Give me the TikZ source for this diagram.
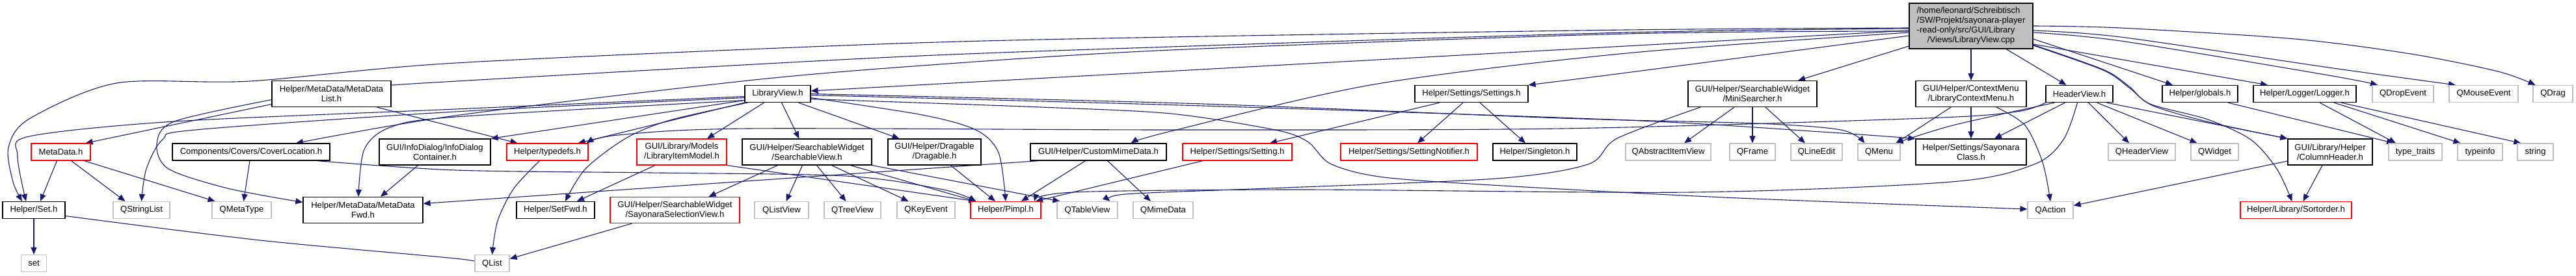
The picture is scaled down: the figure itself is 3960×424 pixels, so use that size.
\documentclass[tikz,border=0pt]{standalone}
\usepackage{fontspec}
\setmainfont{Liberation Sans}
\usetikzlibrary{arrows.meta}
\definecolor{edgeblue}{HTML}{191970}
\definecolor{extgray}{HTML}{BFBFBF}
\definecolor{mainfill}{HTML}{BFBFBF}
\newcommand\nodefont{\fontsize{13.1pt}{15pt}\selectfont}
\pgfdeclarelayer{edgelayer}
\pgfsetlayers{edgelayer,main}
\tikzset{
  box/.style={draw, line width=1.2pt, fill=white, inner sep=0pt, align=center, font=\nodefont, minimum height=26pt},
  dbl/.style={minimum height=40pt},
  docn/.style={box, draw=black},
  extn/.style={box, draw=extgray},
  redn/.style={box, draw=red},
  e/.style={draw=edgeblue, line width=1.1pt, -{Triangle[length=11pt,width=9pt]}},
}
\begin{document}
\begin{tikzpicture}[x=1pt,y=-1pt]
\useasboundingbox (0,0) rectangle (3960,424);
% row 0
\node[docn, fill=mainfill, minimum width=190pt, minimum height=70pt] (cpp) at (3030,40) {\begin{tabular}{@{}l@{}}/home/leonard/Schreibtisch\\/SW/Projekt/sayonara-player\\-read-only/src/GUI/Library\\\multicolumn{1}{@{}c@{}}{/Views/LibraryView.cpp}\end{tabular}};
% row 1
\node[docn,dbl,minimum width=183pt] (mdlist) at (509.5,144.5) {Helper/MetaData/MetaData\\List.h};
\node[docn,minimum width=101pt] (libview) at (1195.5,144.5) {LibraryView.h};
\node[docn,minimum width=174pt] (settings) at (2262,144.5) {Helper/Settings/Settings.h};
\node[docn,dbl,minimum width=198pt] (minisearcher) at (2694,144.5) {GUI/Helper/SearchableWidget\\/MiniSearcher.h};
\node[docn,dbl,minimum width=170pt] (ctxmenu) at (3030,144.5) {GUI/Helper/ContextMenu\\/LibraryContextMenu.h};
\node[docn,minimum width=103pt] (headerview) at (3196.5,144.5) {HeaderView.h};
\node[docn,minimum width=116pt] (globals) at (3382,144.5) {Helper/globals.h};
\node[docn,minimum width=158pt] (logger) at (3543,144.5) {Helper/Logger/Logger.h};
\node[extn,minimum width=94pt] (qdropevent) at (3694,144.5) {QDropEvent};
\node[extn,minimum width=106pt] (qmouseevent) at (3818,144.5) {QMouseEvent};
\node[extn,minimum width=61pt] (qdrag) at (3924.5,144.5) {QDrag};
% row 2
\node[redn,minimum width=91pt] (metadata) at (93.5,234) {MetaData.h};
\node[docn,minimum width=242pt] (coverloc) at (386,234) {Components/Covers/CoverLocation.h};
\node[docn,dbl,minimum width=171pt] (infodlg) at (668.5,234) {GUI/InfoDialog/InfoDialog\\Container.h};
\node[redn,minimum width=125pt] (typedefs) at (841.5,234) {Helper/typedefs.h};
\node[redn,dbl,minimum width=138pt] (libitemmodel) at (1048,234) {GUI/Library/Models\\/LibraryItemModel.h};
\node[docn,dbl,minimum width=199pt] (searchview) at (1240.5,234) {GUI/Helper/SearchableWidget\\/SearchableView.h};
\node[docn,dbl,minimum width=143pt] (dragable) at (1436.5,234) {GUI/Helper/Dragable\\/Dragable.h};
\node[docn,minimum width=209pt] (custommime) at (1688.5,234) {GUI/Helper/CustomMimeData.h};
\node[redn,minimum width=168pt] (setting) at (1902,234) {Helper/Settings/Setting.h};
\node[redn,minimum width=210pt] (settingnotifier) at (2166,234) {Helper/Settings/SettingNotifier.h};
\node[docn,minimum width=129pt] (singleton) at (2359.5,234) {Helper/Singleton.h};
\node[extn,minimum width=131pt] (qaiv) at (2564.5,234) {QAbstractItemView};
\node[extn,minimum width=70pt] (qframe) at (2694,234) {QFrame};
\node[extn,minimum width=79pt] (qlineedit) at (2792.5,234) {QLineEdit};
\node[extn,minimum width=65pt] (qmenu) at (2888.5,234) {QMenu};
\node[docn,dbl,minimum width=170pt] (sayclass) at (3030,234) {Helper/Settings/Sayonara\\Class.h};
\node[extn,minimum width=103pt] (qheaderview) at (3292.5,234) {QHeaderView};
\node[extn,minimum width=73pt] (qwidget) at (3404.5,234) {QWidget};
\node[docn,dbl,minimum width=130pt] (colheader) at (3582,234) {GUI/Library/Helper\\/ColumnHeader.h};
\node[extn,minimum width=82pt] (typetraits) at (3713,234) {type\_traits};
\node[extn,minimum width=69pt] (typeinfo) at (3812.5,234) {typeinfo};
\node[extn,minimum width=55pt] (string) at (3897.5,234) {string};
% row 3
\node[docn,minimum width=96pt] (seth) at (52,323.5) {Helper/Set.h};
\node[extn,minimum width=87pt] (qstringlist) at (217.5,323.5) {QStringList};
\node[extn,minimum width=91pt] (qmetatype) at (371.5,323.5) {QMetaType};
\node[docn,dbl,minimum width=184pt] (mdfwd) at (558,323.5) {Helper/MetaData/MetaData\\Fwd.h};
\node[docn,minimum width=120pt] (setfwd) at (854,323.5) {Helper/SetFwd.h};
\node[redn,dbl,minimum width=199pt] (selview) at (1037.5,323.5) {GUI/Helper/SearchableWidget\\/SayonaraSelectionView.h};
\node[extn,minimum width=83pt] (qlistview) at (1201.5,323.5) {QListView};
\node[extn,minimum width=87pt] (qtreeview) at (1310.5,323.5) {QTreeView};
\node[extn,minimum width=89pt] (qkeyevent) at (1423.5,323.5) {QKeyEvent};
\node[redn,minimum width=108pt] (pimpl) at (1546,323.5) {Helper/Pimpl.h};
\node[extn,minimum width=93pt] (qtableview) at (1671.5,323.5) {QTableView};
\node[extn,minimum width=92pt] (qmimedata) at (1788,323.5) {QMimeData};
\node[extn,minimum width=70pt] (qaction) at (3152,323.5) {QAction};
\node[redn,minimum width=171pt] (sortorder) at (3529.5,323.5) {Helper/Library/Sortorder.h};
% row 4
\node[extn,minimum width=39pt] (set) at (52,405.5) {set};
\node[extn,minimum width=53pt] (qlist) at (756.5,405.5) {QList};

\begin{pgfonlayer}{edgelayer}
\fill[white] (0,0) rectangle (3960,424);
% cpp edges
\draw[e] plot[smooth] coordinates {([yshift=-4pt]cpp.west) (2500,50) (1800,72) (1350,89) (650,128) ([yshift=11.5pt]mdlist.east)};
\draw[e] plot[smooth] coordinates {([yshift=-3pt]cpp.west) (2500,46) (1800,57) (1350,68) (700,97) (384,125) (179,128) (45,183) (13,227) (20,280) ([xshift=-18pt]seth.north)};
\draw[e] ([yshift=-7pt]cpp.west) -- ([yshift=4.5pt]libview.east);
\draw[e] plot[smooth] coordinates {([yshift=-8pt]cpp.west) (2500,52) (1800,77) (1431,100) (1150,124) (700,178) ([xshift=69pt]coverloc.north)};
\draw[e] plot[smooth] coordinates {([yshift=-10pt]cpp.west) (2500,82) (2112,130) (1800,202) ([xshift=50pt]custommime.north)};
\draw[e] plot[smooth] coordinates {([yshift=-15pt]cpp.west) (2500,112) (settings.north east)};
\draw[e] ([yshift=-31pt]cpp.west) -- ([xshift=70pt]minisearcher.north);
\draw[e] (cpp) -- (ctxmenu);
\draw[e] ([xshift=54pt]cpp.south) -- ([xshift=-20pt]headerview.north);
\draw[e] ([yshift=-20pt]cpp.east) -- ([xshift=-42pt]globals.north);
\draw[e] ([yshift=-28pt]cpp.east) -- ([xshift=-57pt]logger.north);
\draw[e] plot[smooth] coordinates {([yshift=-10pt]cpp.east) (3260,63) (3580,116) ([xshift=-39pt]qdropevent.north)};
\draw[e] plot[smooth] coordinates {([yshift=-7pt]cpp.east) (3260,57) (3580,104) ([xshift=-43pt]qmouseevent.north)};
\draw[e] plot[smooth] coordinates {(cpp.east) (3260,43) (3528,60) (3706,83) (3840,110) ([xshift=-27pt]qdrag.north)};
\draw[e] plot[smooth] coordinates {([yshift=-29pt]cpp.east) (3233,107) (3273,133) (3305,160) (3394,184) (3460,215) (3500,260) ([xshift=-6pt]sortorder.north)};
\draw[e] plot[smooth] coordinates {([yshift=-30pt]cpp.east) (3233,108) (3273,135) (3310,163) (3400,189) (colheader.north west)};
% libview edges
\draw[e] plot[smooth] coordinates {([yshift=-4pt]libview.west) (700,168) (268,187) (45,210) (27,240) ([xshift=-12pt]seth.north)};
\draw[e] plot[smooth] coordinates {([yshift=-6pt]libview.west) (700,172) (300,200) (250,215) (225,260) (qstringlist.north)};
\draw[e] plot[smooth] coordinates {([yshift=-10pt]libview.west) (700,180) (600,196) (560,230) ([xshift=-7pt]mdfwd.north)};
\draw[e] ([yshift=-10pt]libview.west) -- (infodlg.north east);
\draw[e] (libview.south west) -- ([xshift=-16pt]typedefs.north east);
\draw[e] plot[smooth] coordinates {([xshift=5pt]libview.south west) (1030,185) (962,213) (900,260) ([xshift=15pt]setfwd.north)};
\draw[e] ([xshift=-21pt]libview.south) -- ([xshift=39pt]libitemmodel.north);
\draw[e] ([xshift=6pt]libview.south) -- ([xshift=-12pt]searchview.north);
\draw[e] ([xshift=32pt]libview.south) -- ([xshift=-54pt]dragable.north);
\draw[e] plot[smooth] coordinates {([yshift=-6pt]libview.east) (1418,177) (1500,200) (1535,235) (pimpl.north)};
\draw[e] plot[smooth] coordinates {([yshift=-2pt]libview.east) (1850,163) (2500,185) (2800,203) (sayclass.north west)};
\draw[e] plot[smooth] coordinates {(libview.east) (1850,160) (2400,182) (2700,190) (2830,200) ([xshift=-22pt]qmenu.north)};
\draw[e] plot[smooth] coordinates {([yshift=-8pt]libview.east) (1600,165) (1800,175) (1960,200) (2010,218) (2045,252) (2120,272) (2276,284) (2650,304) ([yshift=1.5pt]qaction.west)};
% mdlist edges
\draw[e] ([yshift=-16pt]mdlist.west) -- ([xshift=38pt]metadata.north);
\draw[e] plot[smooth] coordinates {([yshift=-9pt]mdlist.west) (268,187) (241,222) (259,260) (350,290) ([yshift=12pt]mdfwd.west)};
\draw[e] ([xshift=70pt]mdlist.south) -- ([xshift=-46pt]typedefs.north);
% metadata edges
\draw[e] ([xshift=-6pt]metadata.south) -- ([xshift=10pt]seth.north);
\draw[e] ([xshift=16pt]metadata.south) -- ([xshift=-25pt]qstringlist.north);
\draw[e] ([xshift=36pt]metadata.south) -- ([xshift=-41pt]qmetatype.north);
% coverloc edges
\draw[e] ([xshift=-2pt]coverloc.south) -- ([xshift=3pt]qmetatype.north);
\draw[e] plot[smooth] coordinates {([xshift=-20pt]coverloc.south east) (700,262) (1000,266) (1300,271) (1450,292) ([xshift=9pt]pimpl.north west)};
% infodlg
\draw[e] ([xshift=-26pt]infodlg.south) -- ([xshift=27pt]mdfwd.north);
% typedefs
\draw[e] plot[smooth] coordinates {([xshift=-12pt]typedefs.south) (790,290) (765,340) (qlist.north)};
% libitemmodel
\draw[e] ([xshift=-41pt]libitemmodel.south) -- ([xshift=33pt]setfwd.north);
\draw[e] (libitemmodel.south east) -- ([xshift=9pt]pimpl.north west);
% searchview
\draw[e] ([xshift=-45pt]searchview.south) -- ([xshift=52pt]selview.north);
\draw[e] ([xshift=-7pt]searchview.south) -- ([xshift=7pt]qlistview.north);
\draw[e] ([xshift=15pt]searchview.south) -- ([xshift=-10pt]qtreeview.north);
\draw[e] ([xshift=38pt]searchview.south) -- ([xshift=-27pt]qkeyevent.north);
\draw[e] ([xshift=67pt]searchview.south) -- ([xshift=9pt]pimpl.north west);
\draw[e] (searchview.south east) -- ([xshift=5pt]qtableview.north west);
% dragable
\draw[e] ([xshift=25pt]dragable.south) -- ([xshift=-16pt]pimpl.north);
% custommime
\draw[e] ([xshift=-20pt]custommime.south) -- ([xshift=24pt]pimpl.north);
\draw[e] ([xshift=14pt]custommime.south) -- ([xshift=-19pt]qmimedata.north);
\draw[e] ([xshift=13pt]custommime.south west) -- ([yshift=10pt]mdfwd.east);
% setting
\draw[e] ([xshift=-53pt]setting.south) -- ([xshift=46pt]pimpl.north);
% settings
\draw[e] ([xshift=-49pt]settings.south) -- ([xshift=50pt]setting.north);
\draw[e] ([xshift=-13pt]settings.south) -- ([xshift=13pt]settingnotifier.north);
\draw[e] ([xshift=13pt]settings.south) -- ([xshift=-14.5pt]singleton.north);
% minisearcher
\draw[e] ([xshift=-28pt]minisearcher.south) -- ([xshift=24.5pt]qaiv.north);
\draw[e] (minisearcher) -- (qframe);
\draw[e] ([xshift=20pt]minisearcher.south) -- ([xshift=-17.5pt]qlineedit.north);
\draw[e] plot[smooth] coordinates {([xshift=-80pt]minisearcher.south) (2486,213) (2441,253) (2300,275) (1950,290) (1730,299) ([xshift=35pt]qtableview.north)};
% ctxmenu
\draw[e] ([xshift=-31pt]ctxmenu.south) -- ([xshift=26pt]qmenu.north);
\draw[e] (ctxmenu) -- (sayclass);
\draw[e] plot[smooth] coordinates {([xshift=39pt]ctxmenu.south) (3113,193) (3140,250) (qaction.north)};
% headerview
\draw[e] plot[smooth] coordinates {([xshift=-38pt]headerview.south) (3002,193) ([xshift=26pt]qmenu.north)};
\draw[e] ([xshift=-22pt]headerview.south) -- ([xshift=36pt]sayclass.north);
\draw[e] plot[smooth] coordinates {(headerview.south west) (3100,172) (2960,182) (2400,198) (1800,200) (1150,198) (950,208) ([xshift=-3pt]typedefs.north east)};
\draw[e] plot[smooth] coordinates {([xshift=-3pt]headerview.south) (3172,215) (3127,253) (3000,280) (2600,296) (2000,292) (1650,296) ([xshift=44pt]pimpl.north)};
\draw[e] ([xshift=14pt]headerview.south) -- ([xshift=-19.5pt]qheaderview.north);
\draw[e] ([xshift=27pt]headerview.south) -- ([xshift=-27pt]qwidget.north);
\draw[e] ([xshift=42pt]headerview.south) -- (colheader.north west);
% globals, logger
\draw[e] ([xshift=43pt]globals.south) -- ([xshift=-33pt]typetraits.north);
\draw[e] ([xshift=23pt]logger.south) -- ([xshift=-30pt]typetraits.north);
\draw[e] ([xshift=45pt]logger.south) -- ([xshift=5pt]typeinfo.north west);
\draw[e] ([xshift=56pt]logger.south) -- ([xshift=6pt]string.north west);
% colheader
\draw[e] ([xshift=-12pt]colheader.south) -- ([xshift=11pt]sortorder.north);
\draw[e] ([yshift=-14pt]colheader.west) -- ([yshift=7pt]qaction.east);
% set.h
\draw[e] (seth) -- (set);
\draw[e] plot[smooth] coordinates {([yshift=-9pt]seth.east) (400,370) (700,398) ([yshift=1pt]qlist.west)};
% selview
\draw[e] ([xshift=-66pt]selview.south) -- ([yshift=7pt]qlist.east);
\end{pgfonlayer}
\end{tikzpicture}
\end{document}
